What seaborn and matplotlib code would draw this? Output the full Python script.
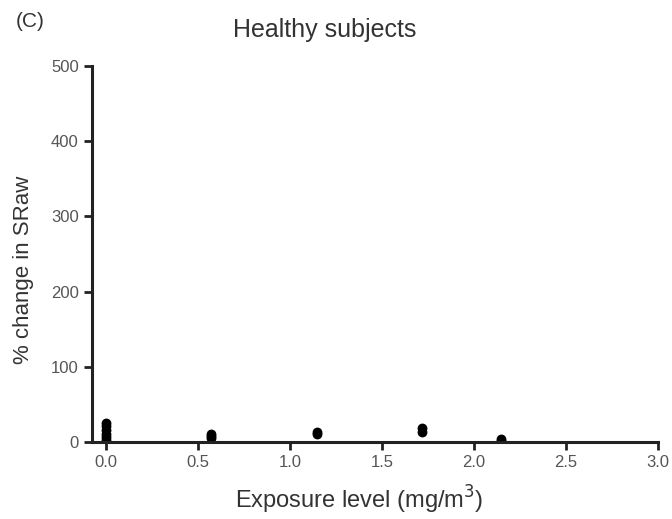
import numpy as np
import pandas as pd
import seaborn as sns
import matplotlib.pyplot as plt

# exposure levels and % change in SRaw
exposure = [0.0, 0.0, 0.0, 0.0, 0.0, 0.0, 0.0,
            0.57, 0.57, 0.57,
            1.15, 1.15,
            1.72, 1.72,
            2.15, 2.15]
change = [0, 3, 7, 11, 16, 21, 26,
          5, 8, 11,
          11, 14,
          14, 19,
          2, 4]

xticks = [0.0, 0.5, 1.0, 1.5, 2.0, 2.5, 3.0]
yticks = [0, 100, 200, 300, 400, 500]


def main():
    data = pd.DataFrame({"exposure": exposure, "change": change})
    sns.set_style("ticks")
    plt.rcParams['font.family'] = ['Liberation Sans', 'DejaVu Sans']
    fig = plt.figure(figsize=(6.72, 5.19), dpi=100)
    ax = fig.add_axes([0.137, 0.148, 0.842, 0.725])
    sns.scatterplot(data=data, x="exposure", y="change", color="black",
                    s=50, edgecolor="black", linewidth=0, ax=ax, legend=False)
    ax.set_xlim(-0.075, 3.0)
    ax.set_ylim(0, 500)
    ax.set_xticks(xticks)
    ax.set_xticklabels([f"{t:.1f}" for t in xticks])
    ax.set_yticks(yticks)
    for side in ["top", "right"]:
        ax.spines[side].set_visible(False)
    for side in ["left", "bottom"]:
        ax.spines[side].set_linewidth(2.2)
        ax.spines[side].set_color("#222222")
    ax.tick_params(width=2, length=6, color="#222222", labelsize=12, labelcolor="#555555")
    ax.set_xlabel("Exposure level (mg/m$^3$)", fontsize=17, color="#333333")
    ax.xaxis.set_label_coords(0.473, -0.11)
    ax.set_ylabel("% change in SRaw", fontsize=16, color="#333333")
    ax.yaxis.set_label_coords(-0.102, 0.457)
    fig.text(0.483, 0.928, "Healthy subjects", ha="center", fontsize=18, color="#333333")
    fig.text(0.024, 0.948, "(C)", ha="left", fontsize=15, color="#333333")
    fig.savefig("out.png", dpi=100)


if __name__ == "__main__":
    main()
